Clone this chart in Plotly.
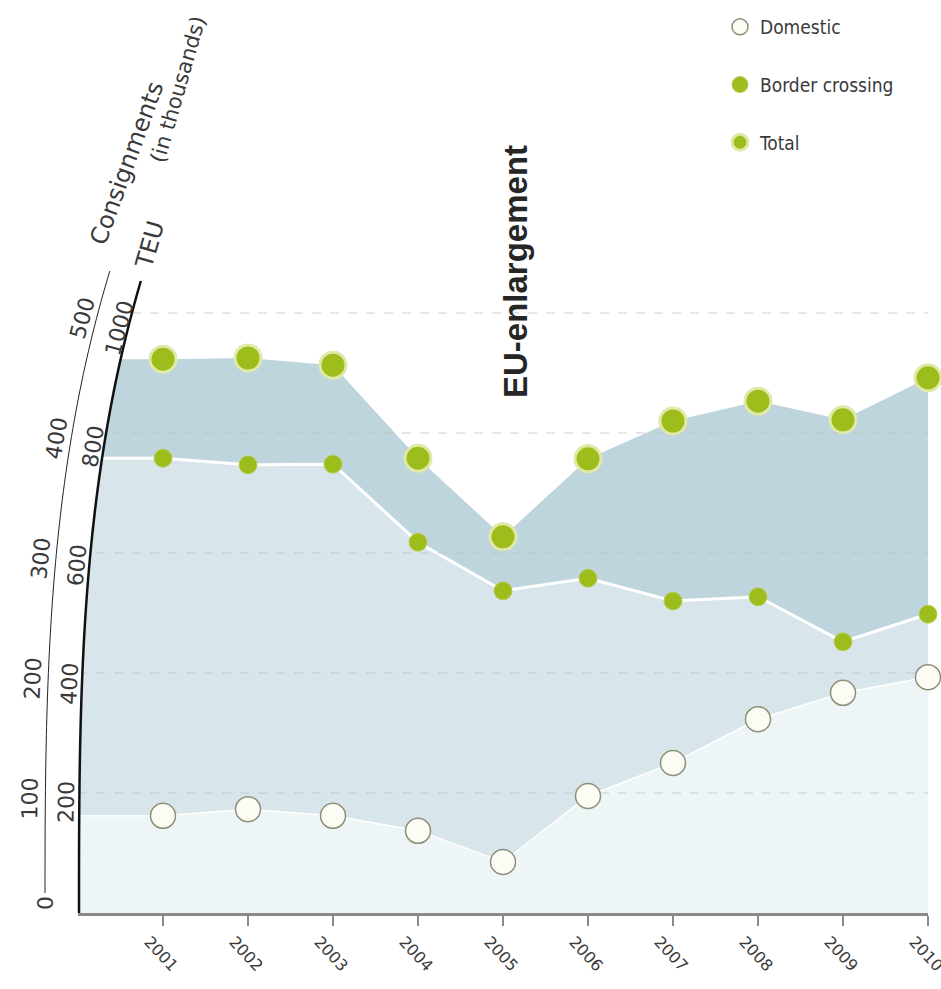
import numpy as np
import plotly.graph_objects as go

# ---------------- data (TEU) ----------------
years = [2001, 2002, 2003, 2004, 2005, 2006, 2007, 2008, 2009, 2010]
domestic = [162, 173, 162, 137, 85, 195, 250, 323, 367, 393]
border_crossing = [758, 747, 748, 618, 537, 558, 520, 527, 452, 498]
total = [923, 925, 913, 758, 627, 757, 820, 853, 822, 892]
teu_ticks = [200, 400, 600, 800, 1000]
consignment_ticks = [100, 200, 300, 400, 500]
grid_vals = [200, 400, 600, 800, 1000]

NARROW = "DejaVu Sans Condensed, Liberation Sans Narrow, sans-serif"
WIDE = "DejaVu Sans, Verdana, sans-serif"
TXT = "#3a3a3a"

# plot-area geometry (px)
W, H = 941, 989
L, R, T, B = 78, 13, 253, 76
PW, PH = W - L - R, H - T - B
Y0 = H - B  # pixel row of y=0
YMAX = 1100
PXU = PH / YMAX


def to_paper(xp, yp):
    return (xp - L) / PW, (Y0 - yp) / PH


# extend areas flat to the left edge of the plot
x_area = [years[0] - 1] + years
dom_area = [domestic[0]] + domestic
bor_area = [border_crossing[0]] + border_crossing
tot_area = [total[0]] + total

fig = go.Figure()

fig.add_trace(go.Scatter(x=x_area, y=dom_area, mode="lines", fill="tozeroy",
                         fillcolor="#eef5f6", line=dict(color="#ffffff", width=1.5),
                         showlegend=False, hoverinfo="skip"))
fig.add_trace(go.Scatter(x=x_area, y=bor_area, mode="lines", fill="tonexty",
                         fillcolor="#d8e5ea", line=dict(color="#ffffff", width=3),
                         showlegend=False, hoverinfo="skip"))
fig.add_trace(go.Scatter(x=x_area, y=tot_area, mode="lines", fill="tonexty",
                         fillcolor="#bfd5dd", line=dict(color="rgba(0,0,0,0)", width=0),
                         showlegend=False, hoverinfo="skip"))

# dashed grid lines
for g in grid_vals:
    fig.add_trace(go.Scatter(x=[years[0] - 1, years[-1]], y=[g, g], mode="lines",
                             line=dict(color="rgba(190,190,190,0.75)", width=1, dash="dash"),
                             showlegend=False, hoverinfo="skip"))

# markers
fig.add_trace(go.Scatter(x=years, y=domestic, mode="markers", name="Domestic",
                         legendgroup="a",
                         marker=dict(size=25, color="#fbfcf4",
                                     line=dict(color="#8e8f78", width=1.5)),
                         cliponaxis=False))
fig.add_trace(go.Scatter(x=years, y=border_crossing, mode="markers", name="Border crossing",
                         legendgroup="b",
                         marker=dict(size=18, color="#9dbd1d",
                                     line=dict(color="#b9cd55", width=1)),
                         cliponaxis=False))
fig.add_trace(go.Scatter(x=years, y=total, mode="markers", showlegend=False,
                         legendgroup="c",
                         marker=dict(size=28, color="#a3a77a"),
                         cliponaxis=False, hoverinfo="skip"))
fig.add_trace(go.Scatter(x=years, y=total, mode="markers", name="Total",
                         legendgroup="c",
                         marker=dict(size=26, color="#9dbd1d",
                                     line=dict(color="#e1e9a8", width=3)),
                         cliponaxis=False))

# ---------------- curved y axis ----------------
A = 2.45e-7


def thick_x(h):
    return 79 + A * h ** 3


def thin_x(h):
    return 45 + A * h ** 3


def tilt(h):
    return np.degrees(np.arctan(3 * A * h ** 2))


shapes = []
# white mask left of the curved axis
hs = np.linspace(0, PH, 80)
pts = [to_paper(L - 2, Y0)] + [to_paper(thick_x(h), Y0 - h) for h in hs] + [to_paper(L - 2, Y0 - PH)]
path = "M " + " L ".join(f"{x:.5f},{y:.5f}" for x, y in pts) + " Z"
shapes.append(dict(type="path", path=path, xref="paper", yref="paper",
                   fillcolor="#ffffff", line=dict(width=0), layer="above"))

hs = np.linspace(0, 632, 80)
pts = [to_paper(thick_x(h), Y0 - h) for h in hs]
shapes.append(dict(type="path", path="M " + " L ".join(f"{x:.5f},{y:.5f}" for x, y in pts),
                   xref="paper", yref="paper", line=dict(color="#111111", width=2.5),
                   layer="above"))
hs = np.linspace(20, 642, 80)
pts = [to_paper(thin_x(h), Y0 - h) for h in hs]
shapes.append(dict(type="path", path="M " + " L ".join(f"{x:.5f},{y:.5f}" for x, y in pts),
                   xref="paper", yref="paper", line=dict(color="#222222", width=1),
                   layer="above"))

annotations = []


def ann(**kw):
    base = dict(showarrow=False, xanchor="center", yanchor="middle")
    base.update(kw)
    annotations.append(base)


for v in teu_ticks:
    h = v * PXU
    xp, _ = to_paper(thick_x(h) - 13, 0)
    ann(x=xp, y=v, xref="paper", yref="y", yshift=-7 - 0.008 * v, text=str(v),
        textangle=-90 + tilt(h), font=dict(family=WIDE, size=22, color=TXT))
for v in consignment_ticks:
    h = 2 * v * PXU
    xp, _ = to_paper(thin_x(h) - 16, 0)
    ann(x=xp, y=2 * v, xref="paper", yref="y", yshift=-5, text=str(v),
        textangle=-90 + tilt(h), font=dict(family=WIDE, size=22, color=TXT))
xz, yz = to_paper(45, 903)
ann(x=xz, y=yz, xref="paper", yref="paper", text="0",
    textangle=-90, font=dict(family=WIDE, size=22, color=TXT))

for text, (cx, cy), ang, size in [("TEU", (150, 245), -74, 24),
                                  ("Consignments", (127, 163), -70, 24),
                                  ("(in thousands)", (178, 90), -74, 21)]:
    xa, ya = to_paper(cx, cy)
    ann(x=xa, y=ya, xref="paper", yref="paper", text=text,
        textangle=ang, font=dict(family=WIDE, size=size, color=TXT))

xe, ye = to_paper(515, 272)
ann(x=xe, y=ye, xref="paper", yref="paper", text="<b>EU-enlargement</b>",
    textangle=-90, font=dict(family="Liberation Sans, Arial, sans-serif", size=33, color="#262626"))

fig.update_layout(
    width=W, height=H,
    margin=dict(l=L, r=R, t=T, b=B, autoexpand=False),
    paper_bgcolor="#ffffff", plot_bgcolor="#ffffff",
    xaxis=dict(range=[years[0] - 1, years[-1]], tickvals=years, ticktext=[str(y) for y in years],
               tickangle=47, ticklabeloverflow="allow", ticklabelshift=-14,
               showgrid=False, zeroline=False,
               showline=True, linecolor="#8a8a8a", linewidth=3, ticks="outside", ticklen=10,
               tickwidth=2, tickcolor="#8a8a8a",
               tickfont=dict(family=WIDE, size=16, color=TXT)),
    yaxis=dict(range=[0, YMAX], visible=False, showgrid=False, zeroline=False),
    shapes=shapes,
    annotations=annotations,
    showlegend=True,
    legend=dict(x=(720 - L) / PW, y=(Y0 - 8) / PH, xref="paper", yref="paper",
                xanchor="left", yanchor="top", tracegroupgap=30, traceorder="grouped",
                bgcolor="rgba(0,0,0,0)", font=dict(family=NARROW, size=19, color=TXT)),
)

fig.write_html("out.html")
